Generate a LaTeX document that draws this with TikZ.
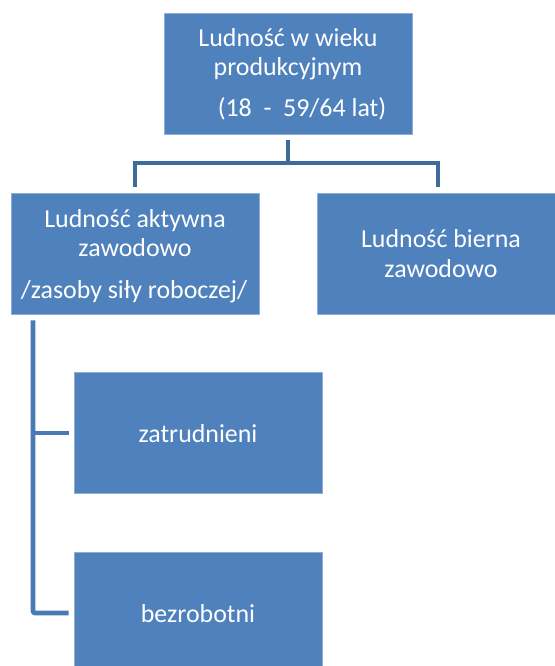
\documentclass[tikz,border=0pt]{standalone}
\usepackage{fontspec}
\setmainfont{Carlito}
\definecolor{boxfill}{HTML}{4F81BD}
\definecolor{boxedge}{HTML}{8FADD6}
\definecolor{conntop}{HTML}{3E6A9C}
\definecolor{connbot}{HTML}{4A7AB6}
\begin{document}
\begin{tikzpicture}[x=1bp,y=-1bp,
  box/.style={rectangle, fill=boxfill, draw=boxedge, line width=0.8bp, inner sep=0pt, minimum width=248bp, minimum height=121bp},
  txt/.style={text=white, font=\fontsize{26}{29}\selectfont, anchor=base, inner sep=0pt},
  conn/.style={line width=4.6bp},
]
\useasboundingbox (0,0) rectangle (555,666);
\clip (0,0) rectangle (555,666);
% boxes
\node[box] (top) at (288,73.5) {};
\node[box] (left) at (135,253.5) {};
\node[box] (right) at (441,253.5) {};
\node[box] (zat) at (198,433) {};
\node[box] (bez) at (198,613) {};
% texts
\node[txt] (t1) at (288,47) {Ludność w wieku};
\node[txt] (t2) at (288,76) {produkcyjnym};
\node[txt] (t3) at (302,117) {(18~~-~~59/64 lat)};
\node[txt] (l1) at (135,227) {Ludność aktywna};
\node[txt] (l2) at (135,256) {zawodowo};
\node[txt] (l3) at (134,298) {/zasoby siły roboczej/};
\node[txt] (r1) at (441,247) {Ludność bierna};
\node[txt] (r2) at (441,277) {zawodowo};
\node[txt] (z1) at (198,442) {zatrudnieni};
\node[txt] (b1) at (198,622) {bezrobotni};
% connectors
\coordinate (hub) at (288,163);
\coordinate (bus) at (33,0);
\draw[conn, conntop, shorten <=6bp] (top.south) -- (hub);
\draw[conn, conntop, shorten >=6bp] (hub) -| (left.north);
\draw[conn, conntop, shorten >=6bp] (hub) -| ([xshift=-3bp]right.north);
\draw[conn, connbot, shorten <=6bp, shorten >=5bp, rounded corners=2bp] (left.south -| bus) |- (bez.west);
\draw[conn, connbot, shorten >=5bp] (zat.west -| bus) -- (zat.west);
\end{tikzpicture}
\end{document}
